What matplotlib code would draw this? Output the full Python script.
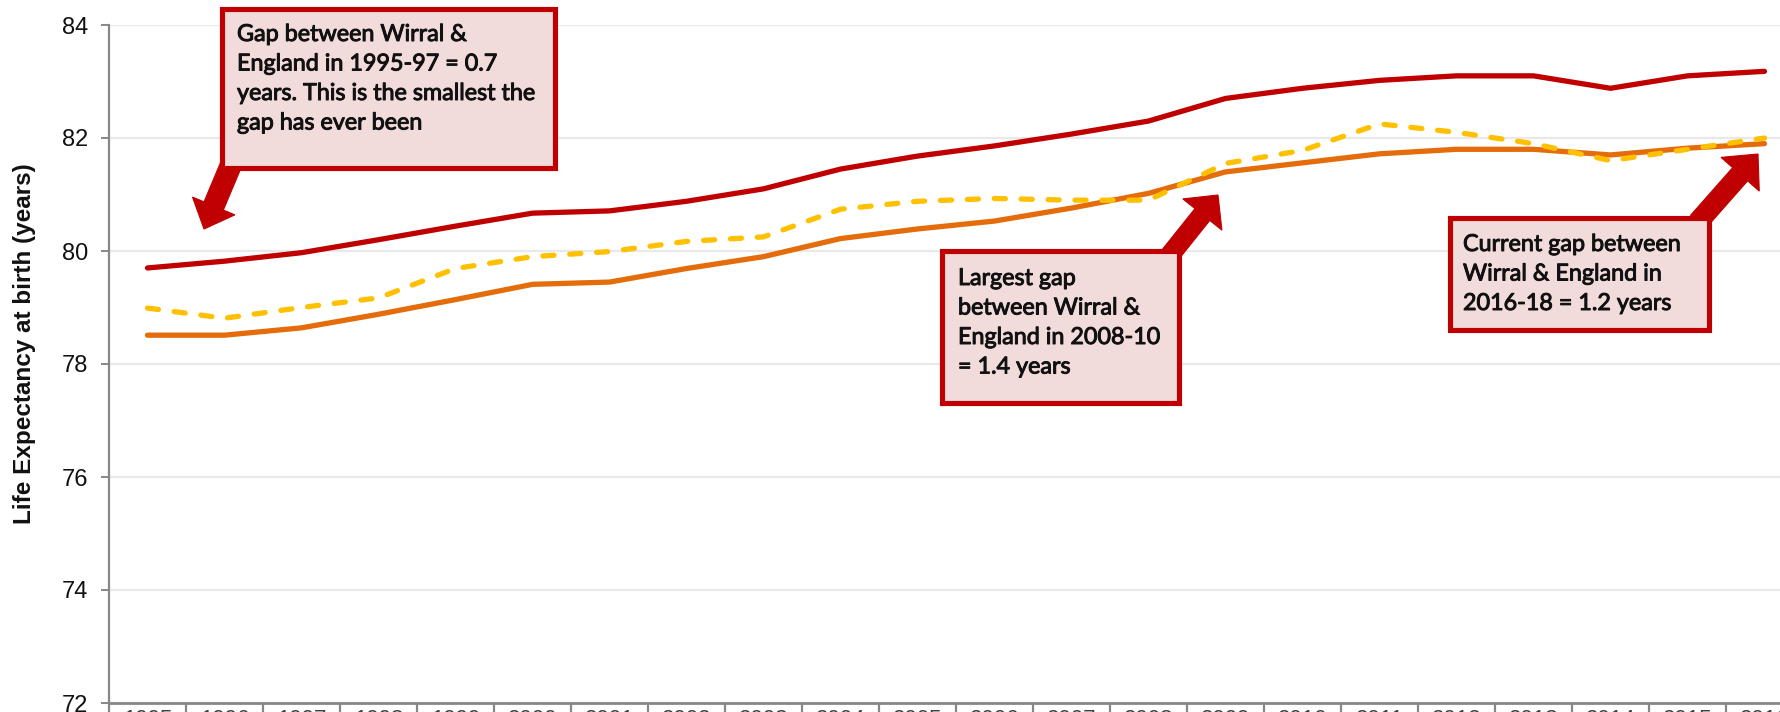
import numpy as np
import matplotlib
matplotlib.use("Agg")
import matplotlib.pyplot as plt
import matplotlib.patheffects as pe
from matplotlib.patches import Rectangle, Polygon

# Three-year periods (labelled by first year)
periods = ["1995", "1996", "1997", "1998", "1999", "2000", "2001", "2002",
           "2003", "2004", "2005", "2006", "2007", "2008", "2009", "2010",
           "2011", "2012", "2013", "2014", "2015", "2016"]

# Female life expectancy at birth (years)
england = [79.70, 79.82, 79.97, 80.20, 80.44, 80.67, 80.71, 80.88, 81.10, 81.45,
           81.68, 81.86, 82.07, 82.30, 82.70, 82.88, 83.02, 83.10, 83.10, 82.88,
           83.10, 83.18]
north_west = [78.51, 78.51, 78.64, 78.88, 79.14, 79.41, 79.45, 79.69, 79.90, 80.22,
              80.39, 80.53, 80.76, 81.02, 81.40, 81.56, 81.72, 81.80, 81.80, 81.70,
              81.82, 81.90]
wirral = [78.99, 78.81, 79.00, 79.17, 79.69, 79.90, 79.99, 80.17, 80.25, 80.74,
          80.88, 80.93, 80.90, 80.90, 81.55, 81.78, 82.25, 82.10, 81.90, 81.60,
          81.80, 82.00]

y_ticks = [72, 74, 76, 78, 80, 82, 84]

RED = "#C00000"
ORANGE = "#E46C0A"
GOLD = "#FFC000"
AXIS_GREY = "#878787"

W, H = 1780, 712
fig = plt.figure(figsize=(W / 100, H / 100), dpi=100)
fig.patch.set_facecolor("white")

# Plot area runs past the right-hand edge of the canvas
left_px, right_px, top_px, bottom_px = 109, 109 + 22 * 77, 25, 703
ax = fig.add_axes([left_px / W, (H - bottom_px) / H,
                   (right_px - left_px) / W, (bottom_px - top_px) / H])

x = np.arange(len(periods))
ax.plot(x, england, color=RED, lw=3.8, solid_capstyle="round",
        solid_joinstyle="round", zorder=3)
ax.plot(x, north_west, color=ORANGE, lw=3.8, solid_capstyle="round",
        solid_joinstyle="round", zorder=3)
ax.plot(x, wirral, color=GOLD, lw=3.8, linestyle=(0, (2.1, 3.0)),
        dash_capstyle="round", solid_joinstyle="round", zorder=4)

ax.set_xlim(-0.5, len(periods) - 0.5)
ax.set_ylim(72, 84)

ax.set_yticks(y_ticks)
ax.set_yticklabels([str(v) for v in y_ticks])
ax.yaxis.grid(True, color="#E9E9E9", lw=1.6)
ax.set_axisbelow(True)

for s in ("top", "right"):
    ax.spines[s].set_visible(False)
ax.spines["left"].set_color(AXIS_GREY)
ax.spines["left"].set_linewidth(1.6)
ax.spines["bottom"].set_color(AXIS_GREY)
ax.spines["bottom"].set_linewidth(2.0)

ax.tick_params(axis="y", direction="out", length=5.8, width=1.4,
               color=AXIS_GREY, pad=9, labelsize=17, labelcolor="#111111")
ax.set_xticks(x)
ax.set_xticklabels(periods)
ax.set_xticks(np.arange(-0.5, len(periods), 1.0), minor=True)
ax.tick_params(axis="x", which="major", length=0, pad=4.5, labelsize=16,
               labelcolor="#404040")
ax.tick_params(axis="x", which="minor", direction="out", length=12, width=1.6,
               color=AXIS_GREY)
for lab in ax.get_yticklabels() + ax.get_xticklabels():
    lab.set_family(["Liberation Sans", "DejaVu Sans"])

fig.text(25 / W, 1 - 343.5 / H, "Life Expectancy at birth (years)",
         rotation=90, ha="center", va="center", fontsize=17.5,
         fontweight="bold", family=["Liberation Sans", "DejaVu Sans"],
         color="#111111")

# Overlay in pixel space for the callouts
ov = fig.add_axes([0, 0, 1, 1], zorder=10)
ov.set_xlim(0, W)
ov.set_ylim(H, 0)
ov.axis("off")
ov.patch.set_alpha(0)


def block_arrow(tail, tip, shaft_w, head_w, head_l):
    tail = np.asarray(tail, float)
    tip = np.asarray(tip, float)
    d = tip - tail
    u = d / np.hypot(*d)
    n = np.array([-u[1], u[0]])
    base = tip - u * head_l
    pts = [tail + n * shaft_w / 2, base + n * shaft_w / 2, base + n * head_w / 2,
           tip, base - n * head_w / 2, base - n * shaft_w / 2, tail - n * shaft_w / 2]
    ov.add_patch(Polygon(pts, closed=True, facecolor=RED, edgecolor=RED,
                         lw=0.8, joinstyle="miter"))


heavier = [pe.withStroke(linewidth=0.7, foreground="#111111")]


def callout(x0, y0, x1, y1, lines, tx, baseline0, pitch=29.5):
    ov.add_patch(Rectangle((x0 + 2.5, y0 + 2.5), x1 - x0 - 5, y1 - y0 - 5,
                           facecolor="#F2DCDB", edgecolor=RED, lw=3.7,
                           joinstyle="miter"))
    for i, line in enumerate(lines):
        ov.text(tx, baseline0 + i * pitch, line, ha="left", va="baseline",
                fontsize=16.8, family=["Lato", "DejaVu Sans"], color="#111111",
                path_effects=heavier)


block_arrow((233, 160), (204, 229), 21, 46, 25)
callout(219, 6, 557, 170,
        ["Gap between Wirral &", "England in 1995-97 = 0.7",
         "years. This is the smallest the", "gap has ever been"],
        237, 41)

block_arrow((1170, 255), (1218, 195), 19, 50, 25)
callout(939, 248, 1181, 405,
        ["Largest gap", "between Wirral &", "England in 2008-10", "= 1.4 years"],
        958, 285)

block_arrow((1698, 222), (1758, 154), 20, 51, 27)
callout(1447, 215, 1711, 332,
        ["Current gap between", "Wirral & England in", "2016-18 = 1.2 years"],
        1463, 251)

fig.savefig("out.png", dpi=100, facecolor="white")
